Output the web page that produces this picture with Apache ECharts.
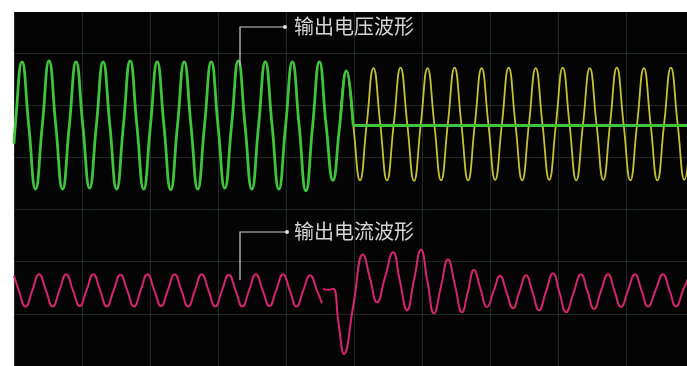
<!DOCTYPE html>
<html>
<head>
<meta charset="utf-8">
<script src="https://cdn.jsdelivr.net/npm/echarts@6.0.0/dist/echarts.min.js"></script>
<style>
  html, body { margin: 0; padding: 0; background: #fff; }
  #chart { width: 687px; height: 366px; }
</style>
</head>
<body>
<div id="chart"></div>
<script>
// time in ms (50 ms / div), values in screen divisions
var greenVoltage = [
  [0, 4.26],
  [0.91, 4.61], [5.88, 5.83], [10.85, 4.61], [15.82, 3.39],
  [20.79, 4.61], [25.76, 5.85], [30.73, 4.61], [35.70, 3.39],
  [40.67, 4.61], [45.64, 5.83], [50.61, 4.61], [55.58, 3.41],
  [60.55, 4.61], [65.52, 5.83], [70.49, 4.61], [75.46, 3.39],
  [80.43, 4.61], [85.40, 5.85], [90.37, 4.61], [95.34, 3.39],
  [100.31, 4.61], [105.28, 5.83], [110.25, 4.61], [115.22, 3.38],
  [120.19, 4.61], [125.16, 5.83], [130.13, 4.61], [135.10, 3.39],
  [140.07, 4.61], [145.04, 5.83], [150.01, 4.61], [154.98, 3.41],
  [159.95, 4.61], [164.92, 5.85], [169.89, 4.61], [174.86, 3.39],
  [179.83, 4.61], [184.80, 5.83], [189.77, 4.61], [194.74, 3.39],
  [199.71, 4.61], [204.68, 5.83], [209.65, 4.61], [214.62, 3.36],
  [219.59, 4.61], [224.56, 5.83], [229.53, 4.61], [234.50, 3.56],
  [239.47, 4.61], [244.44, 5.66], [249.41, 4.61]
];

var greenFlat = [[249.41, 4.61], [494.85, 4.61]];

var yellowVoltage = [
  [239.47, 4.62], [244.44, 5.66], [249.41, 4.63], [254.38, 3.56],
  [259.35, 4.64], [264.32, 5.71], [269.29, 4.64], [274.26, 3.56],
  [279.23, 4.64], [284.20, 5.72], [289.17, 4.64], [294.14, 3.55],
  [299.11, 4.64], [304.08, 5.71], [309.05, 4.64], [314.02, 3.56],
  [318.99, 4.64], [323.96, 5.72], [328.93, 4.64], [333.90, 3.56],
  [338.87, 4.64], [343.84, 5.71], [348.81, 4.64], [353.78, 3.57],
  [358.75, 4.64], [363.72, 5.72], [368.69, 4.64], [373.66, 3.56],
  [378.63, 4.64], [383.60, 5.71], [388.57, 4.64], [393.54, 3.57],
  [398.51, 4.64], [403.48, 5.72], [408.45, 4.64], [413.42, 3.56],
  [418.39, 4.64], [423.36, 5.71], [428.33, 4.64], [433.30, 3.57],
  [438.27, 4.64], [443.24, 5.72], [448.21, 4.64], [453.18, 3.56],
  [458.15, 4.64], [463.12, 5.71], [468.09, 4.64], [473.06, 3.56],
  [478.03, 4.64], [483.00, 5.72], [487.97, 4.64], [492.94, 3.57],
  [497.91, 4.64]
];

var currentBefore = [
  [0, 1.73], [3.50, 1.45], [8.49, 1.14], [13.47, 1.45],
  [18.46, 1.76], [23.45, 1.45], [28.42, 1.14], [33.41, 1.45],
  [38.38, 1.76], [43.38, 1.45], [48.34, 1.15], [53.31, 1.45],
  [58.31, 1.76], [63.31, 1.45], [68.27, 1.14], [73.23, 1.45],
  [78.24, 1.75], [83.24, 1.45], [88.20, 1.14], [93.16, 1.45],
  [98.16, 1.76], [103.16, 1.45], [108.12, 1.15], [113.09, 1.45],
  [118.09, 1.76], [123.09, 1.45], [128.05, 1.14], [133.01, 1.45],
  [138.01, 1.76], [143.01, 1.45], [147.98, 1.14], [152.94, 1.45],
  [157.94, 1.75], [162.94, 1.45], [167.90, 1.14], [172.87, 1.45],
  [177.87, 1.76], [182.86, 1.45], [187.83, 1.15], [192.79, 1.45],
  [197.79, 1.76], [202.79, 1.45], [207.75, 1.14], [212.72, 1.45],
  [217.72, 1.74], [222.72, 1.45], [226.47, 1.20]
];

var currentAfter = [
  [227.2, 1.48], [230.9, 1.46], [234.6, 1.48], [238.6, 0.83], [242.65, 0.23],
  [249.6, 1.18], [256.6, 2.14], [261.8, 1.68], [266.9, 1.22],
  [272.8, 1.70], [278.7, 2.18], [283.8, 1.62], [289.0, 1.07],
  [294.1, 1.65], [299.3, 2.23], [304.0, 1.62], [308.8, 1.01],
  [314.0, 1.53], [319.1, 2.04], [324.3, 1.54], [329.4, 1.03],
  [333.8, 1.43], [338.2, 1.84], [343.0, 1.48], [347.8, 1.13],
  [352.6, 1.43], [357.4, 1.73], [362.1, 1.42], [366.9, 1.11],
  [371.7, 1.43], [376.5, 1.74], [381.3, 1.41], [386.0, 1.07],
  [391.2, 1.43], [396.3, 1.78], [401.1, 1.41], [405.9, 1.03],
  [411.4, 1.40], [416.9, 1.76], [421.7, 1.43], [426.5, 1.09],
  [431.6, 1.44], [436.8, 1.76], [441.5, 1.44], [446.3, 1.13],
  [451.5, 1.45], [456.6, 1.76], [461.4, 1.45], [466.2, 1.14],
  [471.7, 1.45], [477.2, 1.76], [482.0, 1.45], [486.8, 1.14],
  [491.9, 1.45], [497.0, 1.76]
];

var labels = ['输出电压波形', '输出电流波形'];

var chart = echarts.init(document.getElementById('chart'));

var gridColor = '#1f2926';
var textColor = '#d4d4d4';

function trace(name, data, color, width, smooth, z) {
  return {
    name: name,
    type: 'line',
    data: data,
    smooth: smooth,
    showSymbol: false,
    silent: true,
    z: z,
    lineStyle: { color: color, width: width },
    itemStyle: { color: color }
  };
}

chart.setOption({
  animation: false,
  backgroundColor: '#ffffff',
  grid: {
    left: 14,
    right: 0,
    top: 12,
    bottom: -8,
    show: true,
    backgroundColor: '#040404',
    borderWidth: 0
  },
  xAxis: {
    type: 'value',
    min: 0,
    max: 494.85,
    interval: 50,
    axisLine: { show: false },
    axisTick: { show: false },
    axisLabel: { show: false },
    splitLine: { show: true, showMaxLine: false, lineStyle: { color: gridColor, width: 1 } }
  },
  yAxis: {
    type: 'value',
    min: 0,
    max: 6.7875,
    interval: 1,
    axisLine: { show: false },
    axisTick: { show: false },
    axisLabel: { show: false },
    splitLine: { show: true, showMaxLine: false, lineStyle: { color: gridColor, width: 1 } }
  },
  series: [
    trace('电压(切换后)', yellowVoltage, '#c4c233', 1.8, true, 2),
    trace('电压', greenVoltage, '#3fc43c', 2.8, true, 3),
    trace('电压(平)', greenFlat, '#3fc43c', 3, false, 3),
    trace('电流', currentBefore, '#d3266e', 2, true, 2),
    trace('电流(切换后)', currentAfter, '#d3266e', 2, true, 2)
  ],
  graphic: [
    {
      type: 'polyline',
      z: 10,
      shape: { points: [[240, 66], [240, 27], [284, 27]] },
      style: { stroke: '#cfcfcf', lineWidth: 1.2, fill: null }
    },
    { type: 'circle', z: 10, shape: { cx: 285, cy: 27, r: 2 }, style: { fill: '#e0e0e0' } },
    {
      type: 'text',
      z: 10,
      left: 294,
      top: 16,
      style: {
        text: labels[0],
        fill: textColor,
        fontSize: 20,
        fontFamily: '"Noto Sans CJK SC", sans-serif'
      }
    },
    {
      type: 'polyline',
      z: 10,
      shape: { points: [[240, 280], [240, 232], [286, 232]] },
      style: { stroke: '#cfcfcf', lineWidth: 1.2, fill: null }
    },
    { type: 'circle', z: 10, shape: { cx: 287, cy: 232, r: 2 }, style: { fill: '#e0e0e0' } },
    {
      type: 'text',
      z: 10,
      left: 294,
      top: 221,
      style: {
        text: labels[1],
        fill: textColor,
        fontSize: 20,
        fontFamily: '"Noto Sans CJK SC", sans-serif'
      }
    }
  ]
});
</script>
</body>
</html>
